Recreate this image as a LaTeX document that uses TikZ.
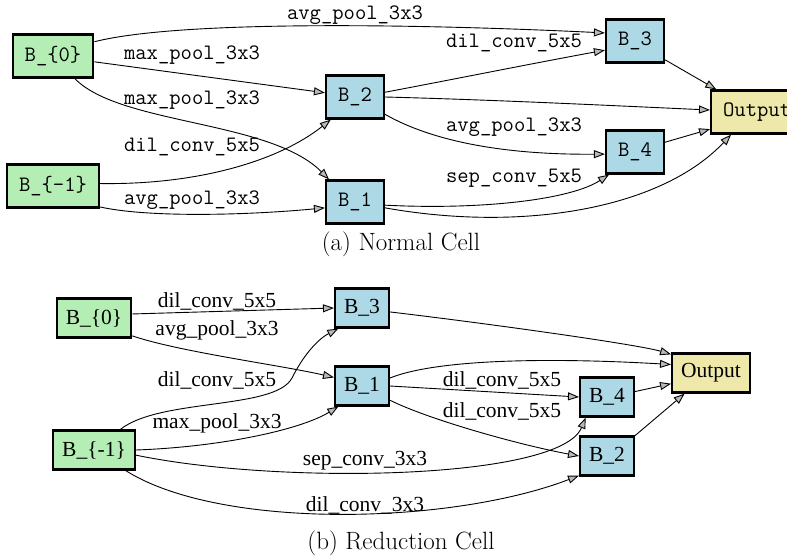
\documentclass[tikz,border=0pt]{standalone}
\usepackage{fontspec}
\newfontfamily\timesfont{Liberation Serif}
\usetikzlibrary{arrows.meta}
\definecolor{ingreen}{HTML}{B4EEB4}
\definecolor{midblue}{HTML}{ADD8E6}
\definecolor{outyellow}{HTML}{EEE8AA}

\begin{document}
\begin{tikzpicture}[x=1pt, y=-1pt,
	box/.style = {draw, line width=2.2pt, rectangle},
	topbox/.style = {box, font=\fontsize{22}{24}\ttfamily, inner xsep=12pt, minimum height=43pt},
	botbox/.style = {box, font=\fontsize{21.5}{23}\timesfont, inner xsep=9pt, minimum height=39pt},
	toplbl/.style = {font=\fontsize{22}{24}\ttfamily, inner sep=0pt},
	botlbl/.style = {font=\fontsize{21.5}{23}\timesfont, inner sep=0pt},
	edge/.style = {line width=0.9pt, -{Triangle[length=11pt, width=8pt, fill=gray!55]}}]
	\useasboundingbox (0,0) rectangle (787,557);

	% (a) normal cell
	\node[topbox, fill = ingreen] (a0) at (53,56) {B\_\{0\}};
	\node[topbox, fill = ingreen] (am1) at (53,186) {B\_\{-1\}};
	\node[topbox, fill = midblue] (a2) at (355,97) {B\_2};
	\node[topbox, fill = midblue] (a1) at (355,202) {B\_1};
	\node[topbox, fill = midblue] (a3) at (635,41) {B\_3};
	\node[topbox, fill = midblue] (a4) at (635,152) {B\_4};
	\node[topbox, fill = outyellow, anchor=west] (aout) at (710,112) {Output};

	\node[toplbl] (la1) at (355,15) {avg\_pool\_3x3};
	\node[toplbl] (la2) at (192,55) {max\_pool\_3x3};
	\node[toplbl] (la3) at (192,100) {max\_pool\_3x3};
	\node[toplbl] (la4) at (192,147) {dil\_conv\_5x5};
	\node[toplbl] (la5) at (192,200) {avg\_pool\_3x3};
	\node[toplbl] (la6) at (514,43) {dil\_conv\_5x5};
	\node[toplbl] (la7) at (514,127) {avg\_pool\_3x3};
	\node[toplbl] (la8) at (514,178) {sep\_conv\_5x5};

	\draw[edge] (a0.19) .. controls (180,20) and (420,24) .. (a3.165);
	\draw[edge] (a0.-8) -- (a2.172);
	\draw[edge] (a0.-46) .. controls (120,125) and (270,120) .. (a1.139);
	\draw[edge] (am1.3) .. controls (200,185) and (280,160) .. (a2.-137);
	\draw[edge] (am1.-24) .. controls (150,218) and (250,215) .. (a1.-169);
	\draw[edge] (a2.9) .. controls (450,80) and (540,62) .. (a3.-163);
	\draw[edge] (a2.east) .. controls (500,100) and (620,106) .. ([yshift=2pt]aout.west);
	\draw[edge] (a2.-30) .. controls (430,140) and (500,155) .. (a4.-176);
	\draw[edge] (a1.-6) .. controls (480,210) and (570,200) .. (a4.-139);
	\draw[edge] (a1.-11) .. controls (520,232) and (660,210) .. (aout.-139);
	\draw[edge] (a3.-32) -- (aout.151);
	\draw[edge] (a4.18) -- (aout.-160);

	\node[font=\fontsize{25}{28}\selectfont] (capa) at (401,244) {(a) Normal Cell};

	% (b) reduction cell
	\node[botbox, fill = ingreen] (b0) at (94,318) {B\_\{0\}};
	\node[botbox, fill = ingreen] (bm1) at (94,450) {B\_\{-1\}};
	\node[botbox, fill = midblue] (b3) at (362,308) {B\_3};
	\node[botbox, fill = midblue] (b1) at (362,386) {B\_1};
	\node[botbox, fill = midblue] (b4) at (607,397) {B\_4};
	\node[botbox, fill = midblue] (b2) at (607,456) {B\_2};
	\node[botbox, fill = outyellow] (bout) at (711,373) {Output};

	\node[botlbl] (lb1) at (217,301) {dil\_conv\_5x5};
	\node[botlbl] (lb2) at (217,330) {avg\_pool\_3x3};
	\node[botlbl] (lb3) at (217,380) {dil\_conv\_5x5};
	\node[botlbl] (lb4) at (217,423) {max\_pool\_3x3};
	\node[botlbl] (lb5) at (365,461) {sep\_conv\_3x3};
	\node[botlbl] (lb6) at (365,505) {dil\_conv\_3x3};
	\node[botlbl] (lb7) at (502,380) {dil\_conv\_5x5};
	\node[botlbl] (lb8) at (502,411) {dil\_conv\_5x5};

	\draw[edge] (b0.6) -- (b3.west);
	\draw[edge] (b0.-25) .. controls (180,352) and (280,365) .. (b1.163);
	\draw[edge] (bm1.38) .. controls (160,398) and (275,410) .. (292,378) .. controls (305,352) and (320,338) .. (b3.-139);
	\draw[edge] (bm1.east) .. controls (220,447) and (300,430) .. (b1.-139);
	\draw[edge] (bm1.-7) .. controls (280,485) and (560,480) .. (b4.-136);
	\draw[edge] (bm1.-33) .. controls (220,530) and (450,525) .. (b2.-145);
	\draw[edge] (b3.-8) .. controls (500,325) and (640,345) .. (bout.155);
	\draw[edge] (b1.16) .. controls (440,358) and (560,358) .. (bout.168);
	\draw[edge] (b1.east) -- (b4.west);
	\draw[edge] (b1.-27) .. controls (430,420) and (520,445) .. (b2.west);
	\draw[edge] (b4.11) -- (bout.-165);
	\draw[edge] (b2.36) -- (bout.-142);

	\node[font=\fontsize{25}{28}\selectfont] (capb) at (401,543) {(b) Reduction Cell};
\end{tikzpicture}
\end{document}
